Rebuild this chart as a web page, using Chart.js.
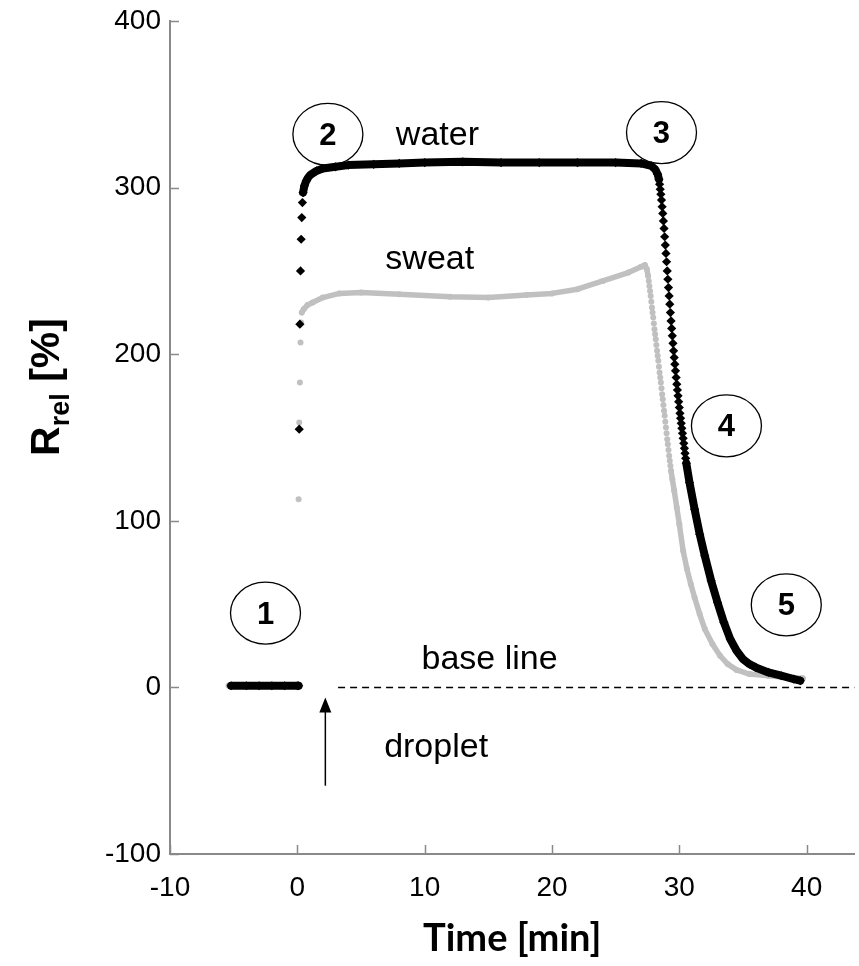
<!DOCTYPE html>
<html lang="en">
<head>
<meta charset="UTF-8">
<title>Rrel vs time</title>
<script src="https://cdn.jsdelivr.net/npm/chart.js"></script>
<style>
  html, body { margin: 0; padding: 0; background: #fff; }
</style>
</head>
<body>
<canvas id="myChart" width="859" height="966"></canvas>
<script>
// water series (black diamonds), time in min, Rrel in %
const waterTime = [-5.2, -4, -3, -2, -1, 0, 0.1,
  0.15, 0.2, 0.25, 0.3, 0.35, 0.4, 0.45,
  0.55, 0.7, 0.85, 1.0, 1.5, 2, 3, 4, 6, 8, 10, 13, 16, 19, 22, 25, 27, 27.8, 28.1, 28.3,
  28.40, 28.45, 28.50, 28.55, 28.60, 28.65, 28.70, 28.75, 28.80, 28.85, 28.90, 28.95,
  29.00, 29.05, 29.10, 29.15, 29.20, 29.25, 29.30, 29.35, 29.40, 29.45, 29.50, 29.55,
  29.60, 29.65, 29.70, 29.75, 29.80, 29.85, 29.90, 29.95, 30.00, 30.05, 30.10, 30.15,
  30.20, 30.25, 30.30, 30.35, 30.40, 30.45, 30.50, 30.55,
  30.8, 31.2, 31.6, 32.0, 32.5, 33.0, 33.5, 34.0, 34.5, 35.0, 35.5, 36.0, 37.0, 38.0, 39.0, 39.5];
const waterVal = [1, 1, 1, 1, 1, 1, 1,
  155, 218, 250, 269, 282, 291, 297,
  301, 304, 306, 307.5, 310, 311.5, 312.5, 313.5, 314, 314.5, 315, 315.5, 315, 315, 315, 315, 314.5, 313, 311, 308,
  305, 302, 299, 296, 292.5, 288.5, 284.5, 280, 275.5, 270.5, 265.5, 260.5,
  255.5, 250, 245, 240, 235, 230, 225, 220, 215.5, 211, 206.5, 202,
  198, 194, 190, 186, 182, 178.5, 175, 171.5, 168, 164.5, 161.5, 158.5,
  155.5, 152.5, 149.5, 146.5, 143.5, 140.5, 137.5, 134.5,
  123, 107, 92, 79, 64, 51, 39, 29, 22, 17, 14, 12, 9, 7, 5, 4];

// sweat series (grey dots)
const sweatTime = [-5.4, -4, -3, -2, -1, 0, 0.05,
  0.1, 0.15, 0.2, 0.25, 0.3, 0.35,
  0.5, 0.8, 1.2, 2, 3.3, 5, 8, 12, 15, 18, 20, 22, 24, 26, 27, 27.3, 27.45, 27.55,
  27.60, 27.65, 27.70, 27.75, 27.80, 27.85, 27.90, 27.95, 28.00, 28.05, 28.10, 28.15,
  28.20, 28.25, 28.30, 28.35, 28.40, 28.45, 28.50, 28.55, 28.60, 28.65, 28.70, 28.75,
  28.80, 28.85, 28.90, 28.95, 29.00, 29.05, 29.10, 29.15, 29.20, 29.25, 29.30, 29.35,
  29.45, 29.60, 29.80, 30.0, 30.3, 30.6, 30.9, 31.2, 31.6, 32.0, 32.6, 33.2, 33.8, 34.5,
  35.5, 37.0, 38.5, 39.7];
const sweatVal = [1, 1, 1, 1, 1, 1, 1,
  113, 159, 183, 207, 219, 225,
  227, 229.5, 231, 234, 236.5, 237, 236, 234.5, 234, 235.5, 236.5, 239, 244, 249, 252.5, 253.5, 251, 247,
  244, 241, 238, 235, 231.5, 228, 225, 222, 218.5, 215, 212, 209,
  205.5, 202, 199, 196, 192.5, 189, 186, 183, 179.5, 176, 173, 169.5,
  166, 163, 159.5, 156, 152.5, 149, 146, 142.5, 139, 136, 133, 130,
  125, 118, 108, 98, 82, 71, 62, 54, 44, 35, 26, 19, 14, 10.5,
  8, 7, 6, 5.5];

const xTicks = [-10, 0, 10, 20, 30, 40];
const yTicks = [-100, 0, 100, 200, 300, 400];

// numbered circles and text labels, placed in data units
const circles = [
  { x: -2.5, y: 44.6, label: '1' },
  { x: 2.4, y: 332, label: '2' },
  { x: 28.6, y: 333, label: '3' },
  { x: 33.7, y: 157, label: '4' },
  { x: 38.4, y: 49.5, label: '5' }
];
const notes = [
  { x: 11.0, y: 331, label: 'water' },
  { x: 10.4, y: 257, label: 'sweat' },
  { x: 15.1, y: 16.4, label: 'base line' },
  { x: 10.9, y: -36, label: 'droplet' }
];

const AXIS = '#898989';
Chart.defaults.font.family = "'Liberation Sans', Arial, sans-serif";
Chart.defaults.color = '#000';

// hide the connecting line where consecutive samples are far apart (steep parts)
const steep = ctx => {
  const dx = ctx.p1.parsed.x - ctx.p0.parsed.x;
  const dy = Math.abs(ctx.p1.parsed.y - ctx.p0.parsed.y);
  return dx <= 0 || dy / dx > 55;
};

const toXY = (ts, vs) => ts.map((t, i) => ({ x: t, y: vs[i] }));

const data = {
  datasets: [{
    label: 'water',
    data: toXY(waterTime, waterVal),
    showLine: true,
    borderColor: '#000',
    borderWidth: 8,
    borderCapStyle: 'round',
    borderJoinStyle: 'round',
    pointStyle: 'rectRot',
    pointRadius: 4.6,
    pointBorderWidth: 0,
    pointBackgroundColor: '#000',
    segment: { borderColor: ctx => steep(ctx) ? 'rgba(0,0,0,0)' : '#000' }
  }, {
    label: 'sweat',
    data: toXY(sweatTime, sweatVal),
    showLine: true,
    borderColor: '#c0c0c0',
    borderWidth: 5.5,
    borderCapStyle: 'round',
    borderJoinStyle: 'round',
    pointStyle: 'circle',
    pointRadius: 3,
    pointBorderWidth: 0,
    pointBackgroundColor: '#c0c0c0',
    segment: { borderColor: ctx => steep(ctx) ? 'rgba(0,0,0,0)' : '#c0c0c0' }
  }]
};

// inward tick marks, annotations and axis titles
const extras = {
  id: 'extras',
  afterDraw(chart) {
    const { ctx, chartArea: a, scales: { x, y } } = chart;
    ctx.save();
    ctx.strokeStyle = AXIS;
    ctx.lineWidth = 1.5;
    xTicks.forEach(v => {
      const px = Math.round(x.getPixelForValue(v)) + 0.5;
      ctx.beginPath(); ctx.moveTo(px, a.bottom); ctx.lineTo(px, a.bottom - 9); ctx.stroke();
    });
    yTicks.forEach(v => {
      const py = Math.round(y.getPixelForValue(v)) + 0.5;
      ctx.beginPath(); ctx.moveTo(a.left, py); ctx.lineTo(a.left + 9, py); ctx.stroke();
    });

    // base line
    ctx.strokeStyle = '#000';
    ctx.lineWidth = 1.5;
    ctx.setLineDash([7, 5]);
    ctx.beginPath();
    ctx.moveTo(x.getPixelForValue(3.2), y.getPixelForValue(0));
    ctx.lineTo(a.right, y.getPixelForValue(0));
    ctx.stroke();
    ctx.setLineDash([]);

    // droplet arrow
    const ax = x.getPixelForValue(2.2);
    const tip = y.getPixelForValue(-6);
    ctx.beginPath();
    ctx.moveTo(ax, y.getPixelForValue(-59));
    ctx.lineTo(ax, tip + 12);
    ctx.stroke();
    ctx.fillStyle = '#000';
    ctx.beginPath();
    ctx.moveTo(ax, tip);
    ctx.lineTo(ax - 6, tip + 15);
    ctx.lineTo(ax + 6, tip + 15);
    ctx.closePath();
    ctx.fill();

    // numbered circles
    ctx.lineWidth = 1.3;
    ctx.textAlign = 'center';
    ctx.textBaseline = 'middle';
    circles.forEach(c => {
      const cx = x.getPixelForValue(c.x), cy = y.getPixelForValue(c.y);
      ctx.beginPath();
      ctx.ellipse(cx, cy, 35, 31, 0, 0, Math.PI * 2);
      ctx.stroke();
      ctx.fillStyle = '#000';
      ctx.font = "bold 31px 'Liberation Sans', Arial, sans-serif";
      ctx.fillText(c.label, cx, cy + 2);
    });

    ctx.font = "34px 'Liberation Sans', Arial, sans-serif";
    notes.forEach(n => {
      ctx.fillText(n.label, x.getPixelForValue(n.x), y.getPixelForValue(n.y));
    });

    // x title
    ctx.font = "bold 38px Lato, 'Liberation Sans', sans-serif";
    ctx.fillText('Time [min]', (a.left + a.right) / 2, 939);

    // y title with subscript
    ctx.translate(45, 387);
    ctx.rotate(-Math.PI / 2);
    const big = "bold 41px 'Liberation Sans', Arial, sans-serif";
    const small = "bold 27px 'Liberation Sans', Arial, sans-serif";
    ctx.font = big; const w1 = ctx.measureText('R').width;
    ctx.font = small; const w2 = ctx.measureText('rel').width;
    ctx.font = big; const w3 = ctx.measureText(' [%]').width;
    let sx = -(w1 + w2 + w3) / 2;
    ctx.textAlign = 'left';
    ctx.textBaseline = 'alphabetic';
    ctx.font = big; ctx.fillText('R', sx, 14); sx += w1;
    ctx.font = small; ctx.fillText('rel', sx, 24); sx += w2;
    ctx.font = big; ctx.fillText(' [%]', sx, 14);
    ctx.restore();
  }
};

const config = {
  type: 'scatter',
  data,
  options: {
    responsive: false,
    animation: false,
    layout: { padding: { left: 0, top: 21, right: 1, bottom: 0 } },
    plugins: { legend: { display: false }, tooltip: { enabled: false } },
    scales: {
      x: {
        type: 'linear',
        min: -10,
        max: 43.75,
        afterBuildTicks: s => { s.ticks = xTicks.map(v => ({ value: v })); },
        afterFit: s => { s.height = 112; },
        grid: { display: false },
        border: { display: true, color: AXIS, width: 2 },
        ticks: { font: { size: 28 }, padding: 9, maxRotation: 0 }
      },
      y: {
        type: 'linear',
        min: -100,
        max: 400,
        afterBuildTicks: s => { s.ticks = yTicks.map(v => ({ value: v })); },
        afterFit: s => { s.width = 170; },
        grid: { display: false },
        border: { display: true, color: AXIS, width: 2 },
        ticks: { font: { size: 28 }, padding: 1 }
      }
    }
  },
  plugins: [extras]
};

const myChart = new Chart(document.getElementById('myChart'), config);
</script>
</body>
</html>
